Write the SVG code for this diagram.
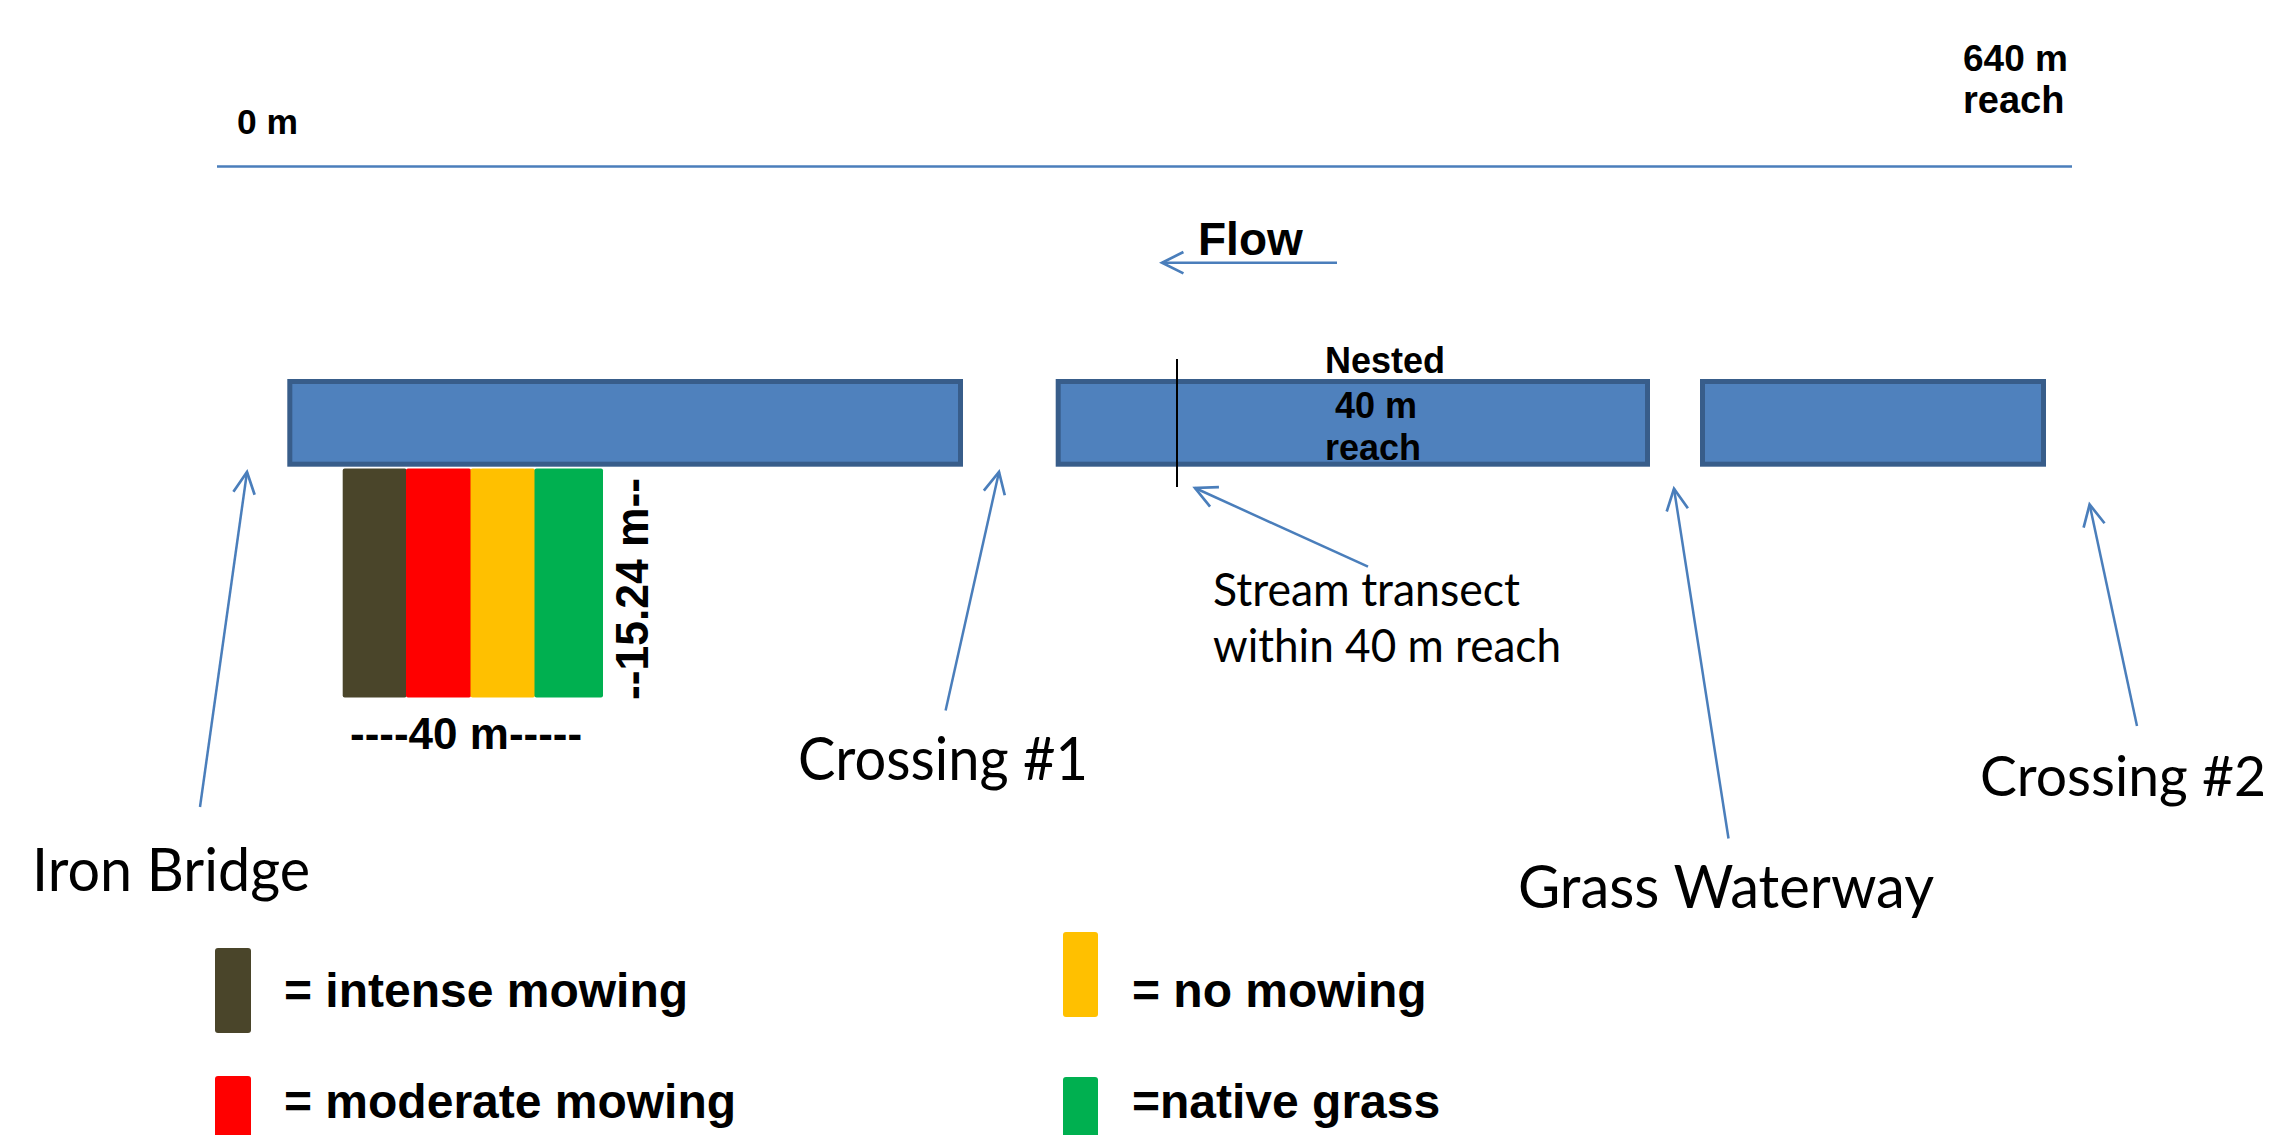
<svg xmlns="http://www.w3.org/2000/svg" width="2282" height="1135" viewBox="0 0 2282 1135">
<style>
.bar{fill:#4f81bd;stroke:#385d8a;stroke-width:5}
.conn{stroke:#4a7ebb;stroke-width:2.5;fill:none}
.b{font-family:"Liberation Sans",Arial,sans-serif;font-weight:bold;fill:#000}
.c{font-family:Lato,"Liberation Sans",sans-serif;fill:#000}
</style>
<defs>
<marker id="ah" markerUnits="userSpaceOnUse" markerWidth="30" markerHeight="30" viewBox="-24 -14 28 28" refX="0" refY="0" orient="auto">
<path d="M -20 -10 L 0 0 L -20 10" fill="none" stroke="#4a7ebb" stroke-width="2.5"/>
</marker>
</defs>
<rect width="2282" height="1135" fill="#fff"/>

<g id="scale">
<line x1="217" y1="166.5" x2="2072" y2="166.5" stroke="#4a7ebb" stroke-width="2.5"/>
<text class="b" x="237" y="134" font-size="35" textLength="61" lengthAdjust="spacingAndGlyphs">0 m</text>
<text class="b" x="1963" y="71" font-size="37">640 m</text>
<text class="b" x="1963" y="113" font-size="38">reach</text>
</g>

<g id="flow">
<text class="b" x="1198" y="255" font-size="46">Flow</text>
</g>

<g id="reach1"><rect class="bar" x="289.8" y="381.5" width="670.7" height="82.7"/></g>
<g id="reach2"><rect class="bar" x="1058.2" y="381.5" width="589.3" height="82.7"/></g>
<g id="reach3"><rect class="bar" x="1702.5" y="381.5" width="341" height="82.7"/></g>

<g id="nested-label">
<text class="b" x="1325" y="373" font-size="36">Nested</text>
<text class="b" x="1335" y="418" font-size="36">40 m</text>
<text class="b" x="1325" y="460" font-size="36">reach</text>
</g>

<g id="transect">
<line x1="1177" y1="359" x2="1177" y2="487" stroke="#000" stroke-width="2"/>
</g>

<g id="plots">
<rect x="342.7" y="468.4" width="64" height="229" rx="2" fill="#4a452a"/>
<rect x="406" y="468.4" width="65" height="229" rx="2" fill="#ff0000"/>
<rect x="470.5" y="468.4" width="64.5" height="229" rx="2" fill="#ffc000"/>
<rect x="534.5" y="468.4" width="68.5" height="229" rx="2" fill="#00b050"/>
<text class="b" x="350" y="749" font-size="44">----40 m-----</text>
<text class="b" font-size="46" transform="translate(648,700) rotate(-90)" textLength="222" lengthAdjust="spacingAndGlyphs">--15.24 m--</text>
</g>

<g id="labels">
<text class="c" x="32" y="891" font-size="60" textLength="278" lengthAdjust="spacingAndGlyphs">Iron Bridge</text>
<text class="c" x="798" y="780" font-size="60" textLength="290" lengthAdjust="spacingAndGlyphs">Crossing #1</text>
<text class="c" x="1980" y="796" font-size="56" textLength="286" lengthAdjust="spacingAndGlyphs">Crossing #2</text>
<text class="c" x="1518" y="907.6" font-size="60" textLength="416" lengthAdjust="spacingAndGlyphs">Grass Waterway</text>
<text class="c" x="1213" y="605.7" font-size="46" textLength="307" lengthAdjust="spacingAndGlyphs">Stream transect</text>
<text class="c" x="1213" y="661.7" font-size="46" textLength="348" lengthAdjust="spacingAndGlyphs">within 40 m reach</text>
</g>

<g id="connectors">
<line class="conn" x1="1337" y1="262.7" x2="1162" y2="262.7" marker-end="url(#ah)"/>
<line class="conn" x1="200" y1="807" x2="247" y2="472" marker-end="url(#ah)"/>
<line class="conn" x1="945.6" y1="710.5" x2="999" y2="472" marker-end="url(#ah)"/>
<line class="conn" x1="1368" y1="566.7" x2="1195" y2="488" marker-end="url(#ah)"/>
<line class="conn" x1="1728.5" y1="838.5" x2="1674" y2="488.7" marker-end="url(#ah)"/>
<line class="conn" x1="2137" y1="726" x2="2089.6" y2="504.5" marker-end="url(#ah)"/>
</g>

<g id="legend">
<rect x="215" y="948" width="36" height="85" rx="3" fill="#4a452a"/>
<text class="b" x="284" y="1007" font-size="48">= intense mowing</text>
<rect x="215" y="1076" width="36" height="70" rx="3" fill="#ff0000"/>
<text class="b" x="284" y="1118" font-size="48">= moderate mowing</text>
<rect x="1063" y="932" width="35" height="85" rx="3" fill="#ffc000"/>
<text class="b" x="1132" y="1007" font-size="48">= no mowing</text>
<rect x="1063" y="1077" width="35" height="70" rx="3" fill="#00b050"/>
<text class="b" x="1132" y="1118" font-size="48">=native grass</text>
</g>
</svg>
